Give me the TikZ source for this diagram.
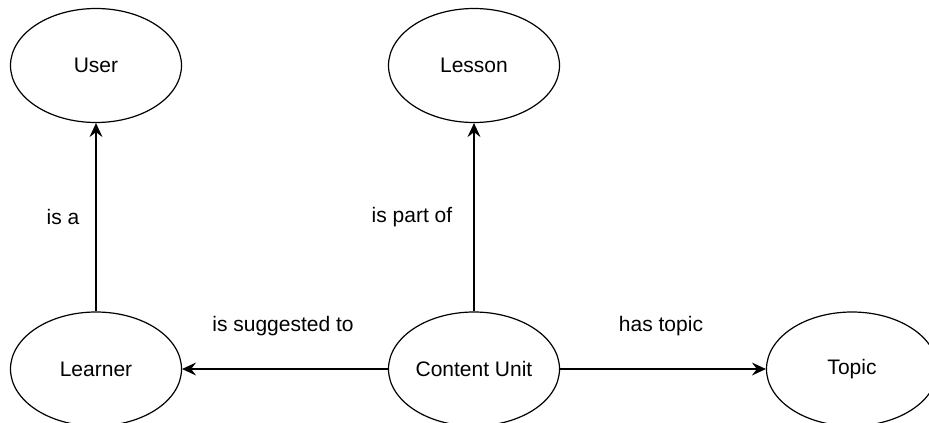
\documentclass[tikz,border=0pt]{standalone}
\usepackage{fontspec}
\setmainfont{Liberation Sans}
\usetikzlibrary{shapes.geometric,arrows.meta}
\begin{document}
\begin{tikzpicture}[x=1pt,y=-1pt,
  concept/.style={draw, ellipse, line width=1.2pt, minimum width=171pt, minimum height=114pt, inner sep=0pt,
                  font=\fontsize{21}{25}\selectfont},
  relation/.style={draw, line width=1.2pt, -{Stealth[length=14pt,width=13pt,inset=5pt]}},
  rellabel/.style={font=\fontsize{21}{25}\selectfont, inner sep=0pt}]
  \useasboundingbox (0,0) rectangle (929,423);

  % concepts
  \node[concept] (user)    at (96,65.5)  {User};
  \node[concept] (lesson)  at (474,65.5) {Lesson};
  \node[concept] (learner) at (96,369)   {Learner};
  \node[concept] (content) at (474,369)  {Content Unit};
  \node[concept] (topic)   at (852,369)  {Topic};

  % relations
  \draw[relation] (learner) -- (user);
  \draw[relation] (content) -- (lesson);
  \draw[relation] (content) -- (learner);
  \draw[relation] (content) -- (topic);

  % relation labels
  \node[rellabel] (lisa)   at (63,217)  {is a};
  \node[rellabel] (lpart)  at (412,217) {is part of};
  \node[rellabel] (lsugg)  at (283,326) {is suggested to};
  \node[rellabel] (ltopic) at (661,326) {has topic};
\end{tikzpicture}
\end{document}
